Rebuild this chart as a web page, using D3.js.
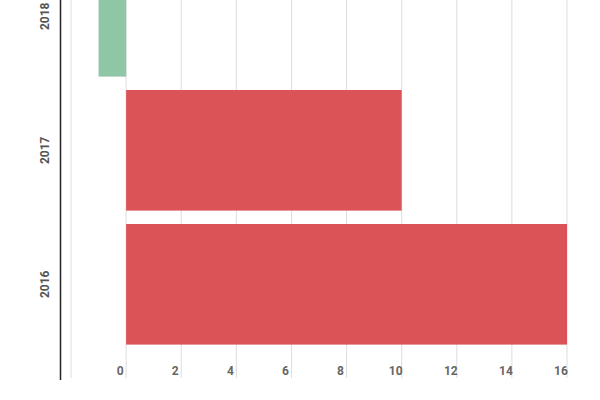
<!DOCTYPE html>
<html><head><meta charset="utf-8">
<script src="https://cdn.jsdelivr.net/npm/d3@7"></script>
<style>body{margin:0;background:#fff}text{font-family:Roboto,sans-serif}</style>
</head><body><svg width="600" height="400"></svg>
<script>
var years = ["2018", "2017", "2016"];
var values = [-1, 10, 16];
var xTicks = [-2, 0, 2, 4, 6, 8, 10, 12, 14, 16];

var svg = d3.select("svg");
var x = d3.scaleLinear().domain([-2.4, 16]).range([60, 567]);
var y = d3.scaleBand().domain(years).range([-50.7, 351.3]).paddingInner(0.1).paddingOuter(0.05);

// grid
svg.selectAll("line.grid").data(xTicks).enter().append("line")
  .attr("x1", d => x(d)).attr("x2", d => x(d))
  .attr("y1", 0).attr("y2", 378)
  .attr("stroke", "#ddd").attr("stroke-width", 1);

// bars
svg.selectAll("rect").data(values).enter().append("rect")
  .attr("x", d => x(Math.min(0, d)))
  .attr("width", d => Math.abs(x(d) - x(0)))
  .attr("y", (d, i) => y(years[i]))
  .attr("height", y.bandwidth())
  .attr("fill", d => d < 0 ? "#8fc6a5" : "#dc5357");

// x tick labels
svg.selectAll("text.xt").data(xTicks.filter(d => d >= 0)).enter().append("text")
  .attr("x", d => x(d) - 6).attr("y", 375)
  .attr("text-anchor", "middle")
  .attr("font-size", 12).attr("font-weight", "bold").attr("fill", "#666")
  .text(d => d);

// y labels
svg.selectAll("text.yt").data(years).enter().append("text")
  .attr("transform", d => "translate(49," + (y(d) + y.bandwidth() / 2) + ") rotate(-90)")
  .attr("text-anchor", "middle")
  .attr("font-size", 12).attr("font-weight", "bold").attr("fill", "#555")
  .text(d => d);

// axis line
svg.append("line").attr("x1", 60.5).attr("x2", 60.5).attr("y1", 0).attr("y2", 380)
  .attr("stroke", "#222").attr("stroke-width", 1.5);
</script></body></html>
